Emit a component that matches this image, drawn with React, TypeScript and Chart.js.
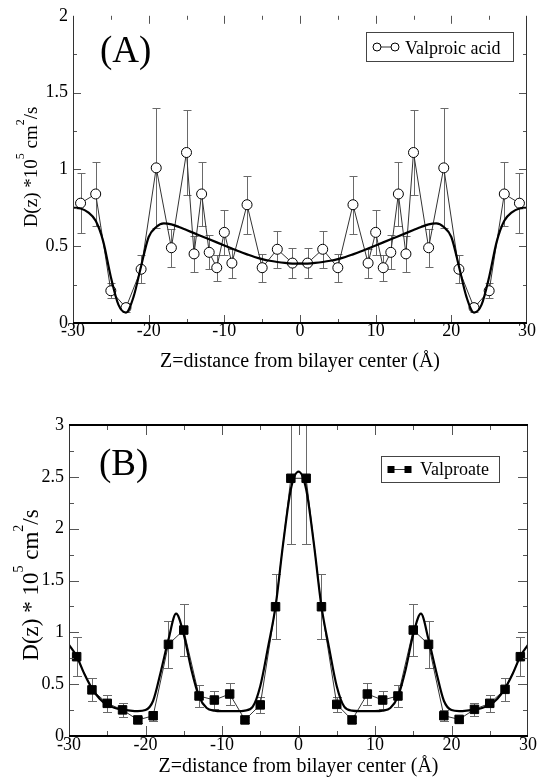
import React, { useEffect, useRef } from "react";
import { Chart, registerables } from "chart.js";

Chart.register(...registerables);

// ---------------- Panel A : Valproic acid ----------------
const zA = [-29, -27, -25, -23, -21, -19, -17, -15, -14, -13, -12, -11, -10, -9, -7, -5, -3, -1,
  1, 3, 5, 7, 9, 10, 11, 12, 13, 14, 15, 17, 19, 21, 23, 25, 27, 29];
const dA = [0.78, 0.84, 0.21, 0.10, 0.35, 1.01, 0.49, 1.11, 0.45, 0.84, 0.46, 0.36, 0.59, 0.39, 0.77, 0.36, 0.48, 0.39,
  0.39, 0.48, 0.36, 0.77, 0.39, 0.59, 0.36, 0.46, 0.84, 0.45, 1.11, 0.49, 1.01, 0.35, 0.10, 0.21, 0.84, 0.78];
const errA = [0.195, 0.21, 0.05, 0.03, 0.09, 0.39, 0.125, 0.275, 0.115, 0.21, 0.11, 0.085, 0.145, 0.095, 0.19, 0.09, 0.12, 0.10,
  0.10, 0.12, 0.09, 0.19, 0.095, 0.145, 0.085, 0.11, 0.21, 0.115, 0.275, 0.125, 0.39, 0.09, 0.03, 0.05, 0.21, 0.195];
const fitZA = [-30, -29, -28, -27, -26, -25, -24, -23, -22, -21, -20, -19, -18, -17, -16, -15, -14, -13, -12, -11, -10,
  -9, -8, -7, -6, -5, -4, -3, -2, -1, 0, 1, 2, 3, 4, 5, 6, 7, 8, 9, 10, 11, 12, 13, 14, 15, 16, 17, 18, 19, 20,
  21, 22, 23, 24, 25, 26, 27, 28, 29, 30];
const fitDA = [0.75, 0.745, 0.72, 0.665, 0.53, 0.30, 0.12, 0.068, 0.17, 0.37, 0.56, 0.625, 0.648, 0.642, 0.625, 0.605,
  0.585, 0.565, 0.545, 0.525, 0.505, 0.485, 0.465, 0.447, 0.43, 0.416, 0.405, 0.397, 0.391, 0.387, 0.386,
  0.387, 0.391, 0.397, 0.405, 0.416, 0.43, 0.447, 0.465, 0.485, 0.505, 0.525, 0.545, 0.565, 0.585, 0.605,
  0.625, 0.642, 0.648, 0.625, 0.56, 0.37, 0.17, 0.068, 0.12, 0.30, 0.53, 0.665, 0.72, 0.745, 0.75];
const yTicksA = [0, 0.5, 1, 1.5, 2];
const yTickLabelsA = ["0", "0.5", "1", "1.5", "2"];

// ---------------- Panel B : Valproate ----------------
const zB = [-29, -27, -25, -23, -21, -19, -17, -15, -13, -11, -9, -7, -5, -3, -1,
  1, 3, 5, 7, 9, 11, 13, 15, 17, 19, 21, 23, 25, 27, 29];
const dB = [0.765, 0.445, 0.315, 0.252, 0.155, 0.195, 0.884, 1.022, 0.386, 0.347, 0.405, 0.155, 0.30, 1.247, 2.486,
  2.486, 1.247, 0.305, 0.155, 0.405, 0.347, 0.386, 1.022, 0.884, 0.196, 0.16, 0.257, 0.315, 0.45, 0.765];
const errB = [0.19, 0.11, 0.08, 0.065, 0.03, 0.05, 0.225, 0.255, 0.11, 0.09, 0.11, 0.03, 0.075, 0.315, 0.63,
  0.63, 0.315, 0.075, 0.03, 0.11, 0.09, 0.11, 0.255, 0.225, 0.05, 0.03, 0.065, 0.08, 0.11, 0.19];
const fitZB = fitZA;
const fitDB = [0.88, 0.77, 0.60, 0.46, 0.36, 0.30, 0.27, 0.255, 0.245, 0.24, 0.25, 0.34, 0.62, 0.93, 1.18, 0.98,
  0.64, 0.38, 0.27, 0.245, 0.24, 0.24, 0.24, 0.245, 0.28, 0.48, 0.85, 1.25, 1.86, 2.38, 2.55,
  2.38, 1.86, 1.25, 0.85, 0.48, 0.28, 0.245, 0.24, 0.24, 0.24, 0.245, 0.27, 0.38, 0.64, 0.98,
  1.18, 0.93, 0.62, 0.34, 0.25, 0.24, 0.245, 0.255, 0.27, 0.30, 0.36, 0.46, 0.60, 0.77, 0.88];
const yTicksB = [0, 0.5, 1, 1.5, 2, 2.5, 3];
const yTickLabelsB = ["0", "0.5", "1", "1.5", "2", "2.5", "3"];

// ---------------- Shared ----------------
const xTicks = [-30, -20, -10, 0, 10, 20, 30];
const xTickLabels = ["-30", "-20", "-10", "0", "10", "20", "30"];
const xTitle = "Z=distance from bilayer center (Å)";

const FONT = "'Liberation Serif', 'Times New Roman', Times, serif";

type Panel = {
  key: string;
  canvasW: number;
  canvasH: number;
  area: { left: number; right: number; top: number; bottom: number };
  yMax: number;
  yTicks: number[];
  yTickLabels: string[];
  z: number[]; d: number[]; err: number[];
  fitZ: number[]; fitD: number[];
  name: string;
  pointStyle: string; pointRadius: number; pointFill: string;
  majorLen: number; minorLen: number;
  xPad: number;
  panelLabel: string; panelLabelPos: [number, number]; panelFont: number;
  xTitleY: number;
  yTitleSegs: [string, boolean][]; yTitleX: number; yTitleCY: number; yTitleFont: number;
  legendBox: [number, number, number, number];
  legendSymY: number; legendSymX: [number, number]; legendTextX: number; legendTextY: number;
  drawTop: boolean;
  cap: number;
};

function decorPlugin(p: Panel) {
  return {
    id: "decor" + p.key,
    beforeDatasetsDraw(chart: any) {
      const { ctx, chartArea: a } = chart;
      const x = chart.scales.x, y = chart.scales.y;
      ctx.save();
      ctx.beginPath();
      ctx.rect(a.left, a.top, a.right - a.left, a.bottom - a.top);
      ctx.clip();
      ctx.strokeStyle = "#6a6a6a";
      ctx.lineWidth = 1;
      p.z.forEach((zv, i) => {
        const px = Math.round(x.getPixelForValue(zv)) + 0.5;
        const y1 = Math.round(y.getPixelForValue(p.d[i] + p.err[i])) + 0.5;
        const y2 = Math.round(y.getPixelForValue(p.d[i] - p.err[i])) + 0.5;
        ctx.beginPath();
        ctx.moveTo(px, y1); ctx.lineTo(px, y2);
        ctx.moveTo(px - p.cap, y1); ctx.lineTo(px + p.cap, y1);
        ctx.moveTo(px - p.cap, y2); ctx.lineTo(px + p.cap, y2);
        ctx.stroke();
      });
      ctx.restore();
    },
    afterDatasetsDraw(chart: any) {
      const { ctx, chartArea: a } = chart;
      const x = chart.scales.x, y = chart.scales.y;
      ctx.save();
      ctx.strokeStyle = "#555";
      ctx.lineWidth = 1;
      ctx.beginPath();
      for (let v = -25; v <= 25; v += 5) {
        const px = Math.round(x.getPixelForValue(v)) + 0.5;
        const len = v % 10 === 0 ? p.majorLen : p.minorLen;
        ctx.moveTo(px, a.bottom); ctx.lineTo(px, a.bottom - len);
        ctx.moveTo(px, a.top); ctx.lineTo(px, a.top + len);
      }
      const n = Math.round(p.yMax / 0.25);
      for (let k = 1; k < n; k++) {
        const py = Math.round(y.getPixelForValue(k * 0.25)) + 0.5;
        const len = k % 2 === 0 ? p.majorLen : p.minorLen;
        ctx.moveTo(a.left, py); ctx.lineTo(a.left + len, py);
        ctx.moveTo(a.right, py); ctx.lineTo(a.right - len, py);
      }
      ctx.stroke();
      // frame
      ctx.strokeStyle = "#333";
      ctx.lineWidth = 1;
      ctx.beginPath();
      ctx.moveTo(Math.round(a.left) + 0.5, a.top); ctx.lineTo(Math.round(a.left) + 0.5, a.bottom);
      ctx.moveTo(Math.round(a.right) - 0.5, a.top); ctx.lineTo(Math.round(a.right) - 0.5, a.bottom);
      ctx.stroke();
      ctx.strokeStyle = "#000";
      ctx.lineWidth = 2;
      ctx.beginPath();
      ctx.moveTo(a.left, Math.round(a.bottom)); ctx.lineTo(a.right, Math.round(a.bottom));
      if (p.drawTop) { ctx.moveTo(a.left, Math.round(a.top)); ctx.lineTo(a.right, Math.round(a.top)); }
      ctx.stroke();
      ctx.restore();
    },
    afterDraw(chart: any) {
      const { ctx, chartArea: a } = chart;
      ctx.save();
      ctx.fillStyle = "#000";
      // panel label
      ctx.font = `${p.panelFont}px ${FONT}`;
      ctx.textAlign = "left";
      ctx.textBaseline = "alphabetic";
      ctx.fillText(p.panelLabel, p.panelLabelPos[0], p.panelLabelPos[1]);
      // x title
      ctx.font = `20px ${FONT}`;
      ctx.textAlign = "center";
      ctx.textBaseline = "middle";
      ctx.fillText(xTitle, (a.left + a.right) / 2, p.xTitleY);
      // y title with superscripts
      ctx.save();
      ctx.translate(p.yTitleX, p.yTitleCY);
      ctx.rotate(-Math.PI / 2);
      ctx.textAlign = "left";
      ctx.textBaseline = "alphabetic";
      const supSize = Math.round(p.yTitleFont * 0.62);
      let total = 0;
      p.yTitleSegs.forEach(([t, sup]) => {
        ctx.font = `${sup ? supSize : p.yTitleFont}px ${FONT}`;
        total += ctx.measureText(t).width;
      });
      let cx = -total / 2;
      p.yTitleSegs.forEach(([t, sup]) => {
        ctx.font = `${sup ? supSize : p.yTitleFont}px ${FONT}`;
        ctx.fillText(t, cx, sup ? -p.yTitleFont * 0.66 : 0);
        cx += ctx.measureText(t).width;
      });
      ctx.restore();
      // legend
      const [bx, by, bw, bh] = p.legendBox;
      ctx.fillStyle = "#fff";
      ctx.fillRect(bx, by, bw, bh);
      ctx.strokeStyle = "#444";
      ctx.lineWidth = 1;
      ctx.strokeRect(bx + 0.5, by + 0.5, bw, bh);
      ctx.strokeStyle = "#333";
      ctx.beginPath();
      ctx.moveTo(p.legendSymX[0], p.legendSymY); ctx.lineTo(p.legendSymX[1], p.legendSymY);
      ctx.stroke();
      p.legendSymX.forEach((sx) => {
        if (p.pointStyle === "circle") {
          ctx.beginPath();
          ctx.arc(sx, p.legendSymY, 4, 0, Math.PI * 2);
          ctx.fillStyle = "#fff";
          ctx.fill();
          ctx.strokeStyle = "#000";
          ctx.stroke();
        } else {
          ctx.fillStyle = "#000";
          ctx.fillRect(sx - 3.5, p.legendSymY - 3.5, 7, 7);
        }
      });
      ctx.fillStyle = "#000";
      ctx.font = `18px ${FONT}`;
      ctx.textAlign = "left";
      ctx.textBaseline = "alphabetic";
      ctx.fillText(p.name, p.legendTextX, p.legendTextY);
      ctx.restore();
    },
  };
}

function buildChart(canvas: HTMLCanvasElement, p: Panel) {
  const tickFont = { family: FONT, size: 18, lineHeight: 1.2 };
  return new Chart(canvas, {
    type: "line",
    data: {
      datasets: [
        {
          label: "fit",
          data: p.fitZ.map((xv, i) => ({ x: xv, y: p.fitD[i] })),
          borderColor: "#000",
          borderWidth: 2.2,
          pointRadius: 0,
          cubicInterpolationMode: "monotone",
          fill: false,
          order: 0,
        },
        {
          label: p.name,
          data: p.z.map((xv, i) => ({ x: xv, y: p.d[i] })),
          borderColor: "#333",
          borderWidth: 1,
          tension: 0,
          pointStyle: p.pointStyle,
          pointRadius: p.pointRadius,
          pointBorderColor: "#000",
          pointBackgroundColor: p.pointFill,
          pointBorderWidth: 1,
          fill: false,
          order: 1,
        },
      ],
    } as any,
    options: {
      responsive: false,
      animation: false,
      events: [],
      layout: { padding: { left: 0, right: p.canvasW - p.area.right, top: p.area.top, bottom: 0 } },
      scales: {
        x: {
          type: "linear",
          min: -30,
          max: 30,
          afterBuildTicks: (s: any) => { s.ticks = xTicks.map((v) => ({ value: v })); },
          afterFit: (s: any) => { s.height = p.canvasH - p.area.bottom; },
          grid: { display: false, drawTicks: false },
          border: { display: false },
          ticks: {
            font: tickFont, color: "#000", padding: p.xPad, maxRotation: 0, autoSkip: false,
            callback: (v: any) => { const i = xTicks.indexOf(Number(v)); return i >= 0 ? xTickLabels[i] : ""; },
          },
        },
        y: {
          type: "linear",
          min: 0,
          max: p.yMax,
          afterBuildTicks: (s: any) => { s.ticks = p.yTicks.map((v) => ({ value: v })); },
          afterFit: (s: any) => { s.width = p.area.left; },
          grid: { display: false, drawTicks: false },
          border: { display: false },
          ticks: {
            font: tickFont, color: "#000", padding: 5, autoSkip: false,
            callback: (v: any) => { const i = p.yTicks.indexOf(Number(v)); return i >= 0 ? p.yTickLabels[i] : ""; },
          },
        },
      },
      plugins: { legend: { display: false }, tooltip: { enabled: false } },
    } as any,
    plugins: [decorPlugin(p)],
  });
}

const panelA: Panel = {
  key: "A", canvasW: 541, canvasH: 390,
  area: { left: 73, right: 527, top: 13, bottom: 323 },
  yMax: 2, yTicks: yTicksA, yTickLabels: yTickLabelsA,
  z: zA, d: dA, err: errA, fitZ: fitZA, fitD: fitDA,
  name: "Valproic acid", pointStyle: "circle", pointRadius: 5, pointFill: "#fff",
  majorLen: 8, minorLen: 4, xPad: -3,
  panelLabel: "(A)", panelLabelPos: [100, 62], panelFont: 37,
  xTitleY: 362,
  yTitleSegs: [["D(z) *10", false], ["5", true], [" cm", false], ["2", true], ["/s", false]],
  yTitleX: 37, yTitleCY: 167, yTitleFont: 19,
  legendBox: [366, 32, 147, 29], legendSymY: 47, legendSymX: [377, 395], legendTextX: 405, legendTextY: 53.5,
  drawTop: false, cap: 4,
};

const panelB: Panel = {
  key: "B", canvasW: 541, canvasH: 391,
  area: { left: 69, right: 528, top: 35, bottom: 346 },
  yMax: 3, yTicks: yTicksB, yTickLabels: yTickLabelsB,
  z: zB, d: dB, err: errB, fitZ: fitZB, fitD: fitDB,
  name: "Valproate", pointStyle: "rect", pointRadius: 6, pointFill: "#000",
  majorLen: 10, minorLen: 5, xPad: -2,
  panelLabel: "(B)", panelLabelPos: [99, 85], panelFont: 37,
  xTitleY: 377,
  yTitleSegs: [["D(z) * 10", false], ["5", true], [" cm", false], ["2", true], ["/s", false]],
  yTitleX: 38, yTitleCY: 195, yTitleFont: 23,
  legendBox: [381, 66, 118, 26], legendSymY: 79.5, legendSymX: [391, 408], legendTextX: 420, legendTextY: 84.5,
  drawTop: true, cap: 4.5,
};

export default function App() {
  const refA = useRef<HTMLCanvasElement | null>(null);
  const refB = useRef<HTMLCanvasElement | null>(null);
  useEffect(() => {
    const cA = buildChart(refA.current!, panelA);
    const cB = buildChart(refB.current!, panelB);
    return () => { cA.destroy(); cB.destroy(); };
  }, []);
  return (
    <div style={{ position: "absolute", left: 0, top: 0, width: 541, height: 781, background: "#fff" }}>
      <canvas ref={refA} width={541} height={390} style={{ position: "absolute", left: 0, top: 0, width: 541, height: 390 }} />
      <canvas ref={refB} width={541} height={391} style={{ position: "absolute", left: 0, top: 390, width: 541, height: 391 }} />
    </div>
  );
}
